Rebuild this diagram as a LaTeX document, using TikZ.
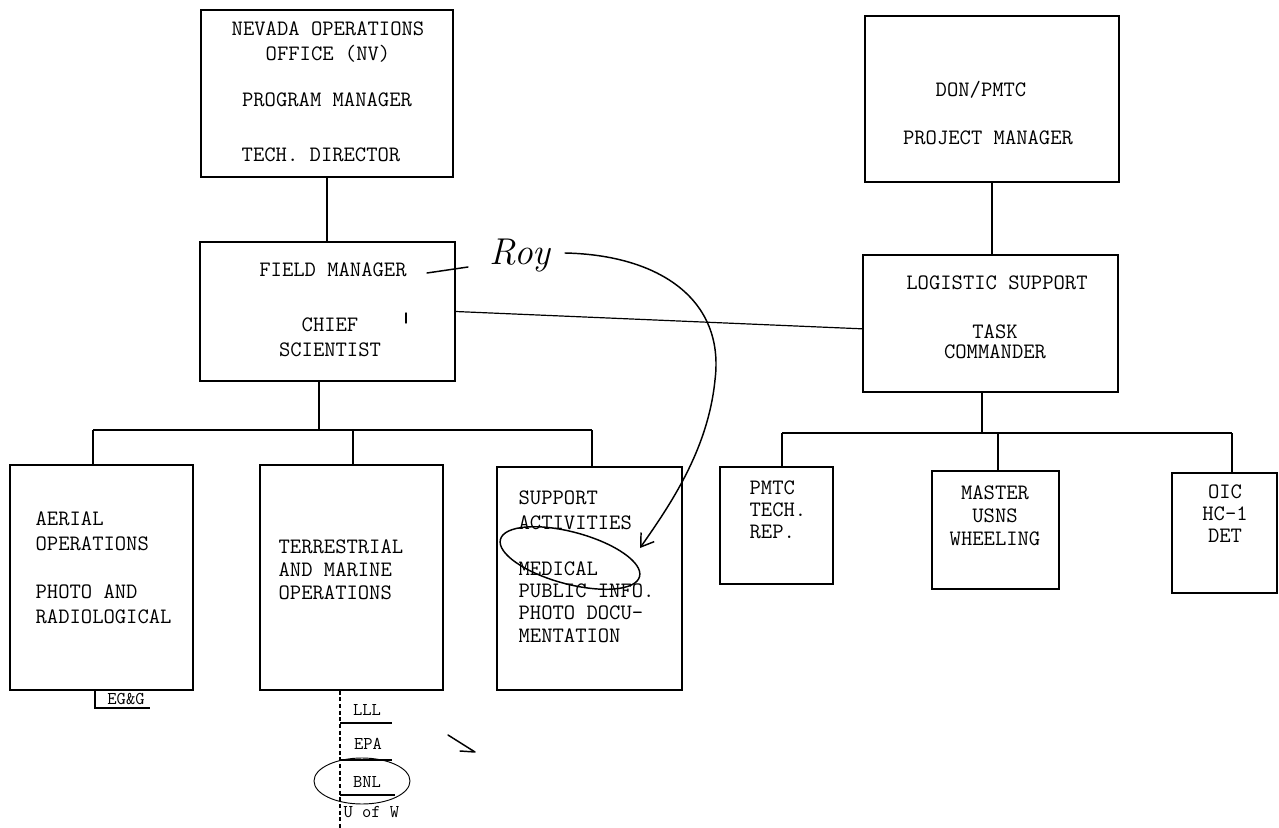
\documentclass[tikz,border=0pt]{standalone}
\usepackage{fontspec}
\usetikzlibrary{fit,arrows.meta}

\tikzset{every picture/.style={line width=0.9pt}}
\tikzset{
  orgbox/.style={draw, rectangle, inner sep=0pt},
  boxtxt/.style={inner sep=0pt, font=\ttfamily\fontsize{16.5}{18.5}\selectfont},
  smalltxt/.style={inner sep=0pt, font=\ttfamily\fontsize{13.5}{15}\selectfont},
  pentrace/.style={line width=1.1pt, line cap=round, line join=round}
}

\begin{document}
\begin{tikzpicture}[x=0.75pt,y=0.75pt,yscale=-1,xscale=1]
\useasboundingbox (0,0) rectangle (1279,828);

%Org boxes
\node[orgbox, fit={(201,10) (453,177)}] (nvoffice) {};
\node[orgbox, fit={(865,16) (1119,182)}] (donpmtc) {};
\node[orgbox, fit={(200,242) (455,381)}] (fieldmgr) {};
\node[orgbox, fit={(863,255) (1118,392)}] (logsup) {};
\node[orgbox, fit={(10,465) (193,690)}] (aerial) {};
\node[orgbox, fit={(260,465) (443,690)}] (terrmar) {};
\node[orgbox, fit={(497,467) (682,690)}] (support) {};
\node[orgbox, fit={(720,467) (833,584)}] (pmtcrep) {};
\node[orgbox, fit={(932,471) (1059,589)}] (master) {};
\node[orgbox, fit={(1172,473) (1277,593)}] (oicdet) {};

%Bus points
\coordinate (fmstem) at (319,430);
\coordinate (fmbusl) at (93,430);
\coordinate (fmbusm) at (353,430);
\coordinate (fmbusr) at (592,430);
\coordinate (lsstem) at (982,433);
\coordinate (lsbusl) at (782,433);
\coordinate (lsbusm) at (998,433);
\coordinate (lsbusr) at (1232,433);

%Connectors
\draw (nvoffice.south) -- (nvoffice.south |- fieldmgr.north);
\draw (donpmtc.south) -- (donpmtc.south |- logsup.north);
\draw (fieldmgr.east) -- ([yshift=4pt]logsup.west);
\draw (fmstem |- fieldmgr.south) -- (fmstem);
\draw (fmbusl) -- (fmbusr);
\draw (fmbusl) -- (fmbusl |- aerial.north);
\draw (fmbusm) -- (fmbusm |- terrmar.north);
\draw (fmbusr) -- (fmbusr |- support.north);
\draw (lsstem |- logsup.south) -- (lsstem);
\draw (lsbusl) -- (lsbusr);
\draw (lsbusl) -- (lsbusl |- pmtcrep.north);
\draw (lsbusm) -- (lsbusm |- master.north);
\draw (lsbusr) -- (lsbusr |- oicdet.north);

% Text Node
\node[boxtxt, align=center] (nvname) at (328,42) {NEVADA OPERATIONS\\OFFICE (NV)};
\node[boxtxt] (nvpm) at (327,100) {PROGRAM MANAGER};
\node[boxtxt] (nvtd) at (321,155) {TECH. DIRECTOR};
\node[boxtxt] (donname) at (981,90) {DON/PMTC};
\node[boxtxt] (donpm) at (988,138) {PROJECT MANAGER};
\node[boxtxt] (fmname) at (333,270) {FIELD MANAGER};
\node[boxtxt, align=center] (fmchief) at (330,337) {CHIEF\\SCIENTIST};
\node[boxtxt] (lsname) at (997,283) {LOGISTIC SUPPORT};
\node[boxtxt, align=center, font=\ttfamily\fontsize{16.5}{15}\selectfont] (lstask) at (995,342) {TASK\\COMMANDER};
\node[boxtxt, align=left, anchor=west] (aerops) at (35,531) {AERIAL\\OPERATIONS};
\node[boxtxt, align=left, anchor=west] (aerrad) at (35,604) {PHOTO AND\\RADIOLOGICAL};
\node[boxtxt, align=left, anchor=west, font=\ttfamily\fontsize{16.5}{17.3}\selectfont] (terrops) at (278,570) {TERRESTRIAL\\AND MARINE\\OPERATIONS};
\node[boxtxt, align=left, anchor=west] (supact) at (518,510) {SUPPORT\\ACTIVITIES};
\node[boxtxt, align=left, anchor=west, font=\ttfamily\fontsize{16.5}{16.7}\selectfont] (supmed) at (518,602) {MEDICAL\\PUBLIC INFO.\\PHOTO DOCU-\\MENTATION};
\node[boxtxt, align=left, anchor=west, font=\ttfamily\fontsize{16.5}{16.5}\selectfont] (pmtctxt) at (749,510) {PMTC\\TECH.\\REP.};
\node[boxtxt, align=center, font=\ttfamily\fontsize{16.5}{17.3}\selectfont] (mastertxt) at (995,516) {MASTER\\USNS\\WHEELING};
\node[boxtxt, align=center, font=\ttfamily\fontsize{16.5}{16.5}\selectfont] (oictxt) at (1225,514) {OIC\\HC-1\\DET};

%Contractor lists
\coordinate (egstem) at (95,708);
\draw (egstem |- aerial.south) -- (egstem) -- ++(55,0);
\node[smalltxt] (egg) at (126,699) {EG\&G};
\coordinate (labstem) at (340,828);
\draw[densely dashed] (labstem |- terrmar.south) -- (labstem);
\draw (340,723) -- (392,723);
\draw (340,760) -- (392,760);
\draw (340,795) -- (395,795);
\node[smalltxt] (lll) at (367,710) {LLL};
\node[smalltxt] (epa) at (368,744) {EPA};
\node[smalltxt] (bnl) at (367,782) {BNL};
\node[smalltxt, anchor=west] (uofw) at (343,812) {U of W};

%Pen marks
\node[inner sep=0pt, font=\itshape\fontsize{28}{28}\selectfont] (roy) at (520,256) {Roy};
\draw[pentrace] (427,273) -- (468,267);
\draw[pentrace, -{Straight Barb[length=9pt,width=12pt]}] (565,253) .. controls (660,255) and (725,300) .. (715,380) .. controls (708,450) and (670,505) .. (640,548);
\draw[pentrace, rotate around={15:(570,558)}] (570,558) ellipse (72 and 26);
\draw[pentrace, line width=0.7pt] (362,781) ellipse (48 and 23);
\draw[pentrace] (448,735) -- (475,752) -- (460,751);
\draw[pentrace] (406,313) -- (406,323);

\end{tikzpicture}
\end{document}
